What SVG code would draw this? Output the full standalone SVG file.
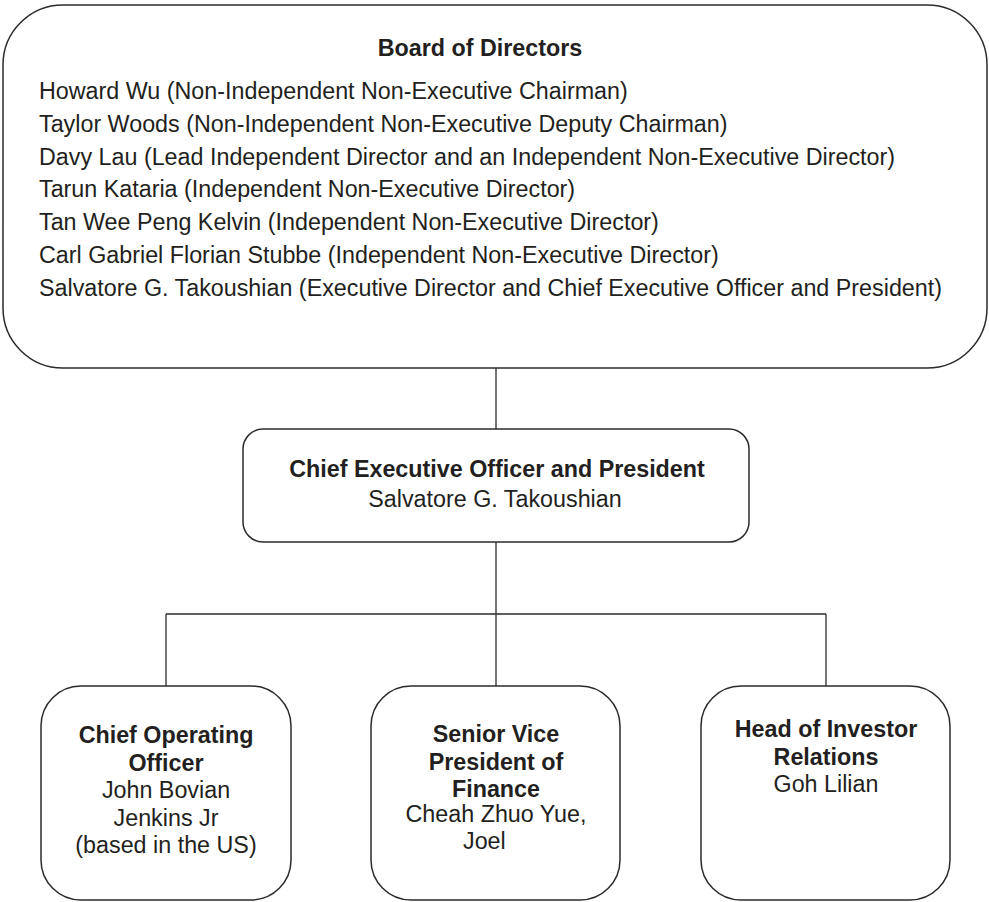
<svg xmlns="http://www.w3.org/2000/svg" width="989" height="902" viewBox="0 0 989 902">
<style>
.box{fill:#fff;stroke:#2b2b2b;stroke-width:1.5}
.ln{fill:none;stroke:#2b2b2b;stroke-width:1.3}
text{font-family:"Liberation Sans",Arial,sans-serif;fill:#231f20}
.t{font-size:23.3px}
.b{font-weight:bold}
.c{text-anchor:middle;font-size:23.3px}
</style>
<rect width="989" height="902" fill="#fff"/>
<g id="connectors">
<line class="ln" x1="496" y1="368" x2="496" y2="429"/>
<line class="ln" x1="496" y1="542" x2="496" y2="614"/>
<line class="ln" x1="166" y1="614" x2="826" y2="614"/>
<line class="ln" x1="166" y1="614" x2="166" y2="686"/>
<line class="ln" x1="496" y1="614" x2="496" y2="686"/>
<line class="ln" x1="826" y1="614" x2="826" y2="686"/>
</g>
<g id="board">
<rect class="box" x="3" y="5" width="984" height="363" rx="60" ry="60"/>
<text class="t b" x="480" y="56" text-anchor="middle">Board of Directors</text>
<text class="t" x="39" y="99">Howard Wu (Non-Independent Non-Executive Chairman)</text>
<text class="t" x="39" y="131.8">Taylor Woods (Non-Independent Non-Executive Deputy Chairman)</text>
<text class="t" x="39" y="164.6">Davy Lau (Lead Independent Director and an Independent Non-Executive Director)</text>
<text class="t" x="39" y="197.4">Tarun Kataria (Independent Non-Executive Director)</text>
<text class="t" x="39" y="230.2">Tan Wee Peng Kelvin (Independent Non-Executive Director)</text>
<text class="t" x="39" y="263">Carl Gabriel Florian Stubbe (Independent Non-Executive Director)</text>
<text class="t" x="39" y="295.8">Salvatore G. Takoushian (Executive Director and Chief Executive Officer and President)</text>
</g>
<g id="ceo">
<rect class="box" x="243" y="429" width="506" height="113" rx="20" ry="20"/>
<text class="c b" x="497" y="477">Chief Executive Officer and President</text>
<text class="c" x="495" y="507">Salvatore G. Takoushian</text>
</g>
<g id="coo">
<rect class="box" x="41" y="686" width="250" height="214" rx="40" ry="40"/>
<text class="c b" x="166" y="743">Chief Operating</text>
<text class="c b" x="166" y="770.5">Officer</text>
<text class="c" x="166" y="798">John Bovian</text>
<text class="c" x="166" y="825.5">Jenkins Jr</text>
<text class="c" x="166" y="853">(based in the US)</text>
</g>
<g id="svp">
<rect class="box" x="371" y="686" width="249" height="214" rx="40" ry="40"/>
<text class="c b" x="496" y="742">Senior Vice</text>
<text class="c b" x="496" y="769.5">President of</text>
<text class="c b" x="496" y="797">Finance</text>
<text class="c" x="496" y="822">Cheah Zhuo Yue,</text>
<text x="463" y="849" style="font-size:23.3px">Joel</text>
</g>
<g id="ir">
<rect class="box" x="701" y="686" width="249" height="214" rx="40" ry="40"/>
<text class="c b" x="826" y="737">Head of Investor</text>
<text class="c b" x="826" y="764.5">Relations</text>
<text class="c" x="826" y="792">Goh Lilian</text>
</g>
</svg>
